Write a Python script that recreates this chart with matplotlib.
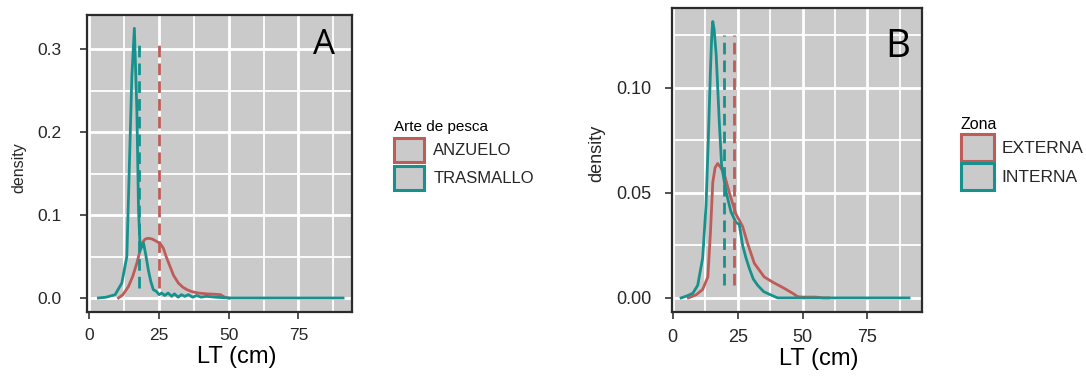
import matplotlib
matplotlib.use('Agg')
import matplotlib.pyplot as plt
from matplotlib.patches import Patch
from matplotlib.ticker import MultipleLocator

plt.rcParams['font.family'] = ['Liberation Sans', 'DejaVu Sans']

RED = '#bd5c58'
TEAL = '#17918d'
BG = '#cacaca'
INK = '#262626'

##------------------------------------------------------##
# panel A : Arte de pesca
a_labels = ['ANZUELO', 'TRASMALLO']
a_anz_x = [10.4, 12.0, 14.0, 15.5, 17.0, 18.8, 20.0, 21.1, 22.5, 24.2, 25.5, 26.5,
           27.5, 28.9, 30.2, 31.9, 33.5, 35.0, 36.7, 39.0, 42.0, 45.0, 47.0, 48.5, 50.0]
a_anz_y = [0.0, 0.004, 0.014, 0.026, 0.042, 0.066, 0.071, 0.072, 0.071, 0.068, 0.065, 0.060,
           0.050, 0.038, 0.027, 0.018, 0.013, 0.010, 0.0077, 0.006, 0.005, 0.0045, 0.004, 0.001, 0.0]
a_tra_x = [3.2, 6.0, 9.2, 11.6, 13.4, 14.2, 15.2, 16.1, 17.0, 17.6, 18.2, 18.8, 19.4, 20.2,
           21.1, 22.0, 22.9, 24.0, 25.0, 25.9, 27.0, 28.2, 29.5, 30.5, 31.8, 33.0, 34.2, 35.5,
           37.0, 38.5, 40.0, 42.0, 45.0, 50.0, 60.0, 70.0, 80.0, 91.0]
a_tra_y = [0.0, 0.001, 0.004, 0.018, 0.05, 0.146, 0.267, 0.325, 0.226, 0.106, 0.058, 0.062,
           0.066, 0.052, 0.034, 0.02, 0.010, 0.008, 0.004, 0.006, 0.003, 0.006, 0.002, 0.005,
           0.001, 0.004, 0.002, 0.004, 0.001, 0.003, 0.001, 0.002, 0.001, 0.0, 0.0, 0.0, 0.0, 0.0]
a_means = [25.0, 17.6]
a_mean_span = [0.012, 0.31]

# panel B : Zona
b_labels = ['EXTERNA', 'INTERNA']
b_ext_x = [6.0, 9.0, 11.5, 13.5, 14.5, 15.4, 16.3, 17.3, 18.5, 19.8, 21.8, 24.3, 26.9, 28.8,
           31.4, 35.2, 38.5, 41.7, 44.0, 46.2, 48.1, 50.0, 55.0, 58.0, 60.0]
b_ext_y = [0.0, 0.0015, 0.004, 0.010, 0.031, 0.055, 0.062, 0.064, 0.062, 0.059, 0.050, 0.040,
           0.034, 0.026, 0.0165, 0.010, 0.0075, 0.0054, 0.0038, 0.0022, 0.0006, 0.0004, 0.0004,
           0.0, 0.0]
b_int_x = [3.2, 5.5, 7.7, 9.6, 11.5, 12.8, 13.7, 14.5, 15.0, 15.4, 15.9, 16.7, 17.9, 18.8,
           20.5, 22.4, 24.3, 25.6, 26.9, 28.2, 29.5, 31.0, 32.7, 35.0, 37.8, 40.4, 50.0, 60.0,
           70.0, 80.0, 91.0]
b_int_y = [0.0, 0.001, 0.0022, 0.006, 0.019, 0.044, 0.076, 0.108, 0.125, 0.1316, 0.128, 0.116,
           0.084, 0.063, 0.0506, 0.041, 0.036, 0.035, 0.025, 0.019, 0.014, 0.009, 0.006, 0.003,
           0.0014, 0.0, 0.0, 0.0, 0.0, 0.0, 0.0]
b_means = [23.5, 19.6]
b_mean_span = [0.006, 0.125]


def style_panel(ax, xlim, ylim, ymajor, tick_fs):
    ax.set_facecolor(BG)
    ax.set_xlim(xlim)
    ax.set_ylim(ylim)
    ax.xaxis.set_major_locator(MultipleLocator(25))
    ax.xaxis.set_minor_locator(MultipleLocator(12.5))
    ax.yaxis.set_major_locator(MultipleLocator(ymajor))
    ax.yaxis.set_minor_locator(MultipleLocator(ymajor / 2))
    ax.grid(which='major', color='white', lw=2.0)
    ax.grid(which='minor', color='white', lw=1.3)
    ax.set_axisbelow(True)
    for s in ax.spines.values():
        s.set_color('#2b2b2b')
        s.set_linewidth(1.6)
    ax.tick_params(which='major', length=5, width=1.2, color='#333333',
                   labelsize=tick_fs, labelcolor=INK)
    ax.tick_params(which='minor', length=0)


def draw(ax, xs, ys, means, span, colors):
    for x, y, c in zip(xs, ys, colors):
        ax.plot(x, y, color=c, lw=2.0, solid_joinstyle='round')
    for m, c in zip(means, colors):
        ax.plot([m, m], span, color=c, lw=2.0, dashes=(4.2, 2.2))


fig = plt.figure(figsize=(10.86, 3.79), dpi=100)

axA = fig.add_axes([0.0801, 0.1776, 0.2440, 0.7828])
style_panel(axA, (-0.9, 94.2), (-0.0165, 0.341), 0.1, 12.5)
axA.yaxis.set_major_formatter(matplotlib.ticker.FormatStrFormatter('%.1f'))
draw(axA, [a_anz_x, a_tra_x], [a_anz_y, a_tra_y], a_means, a_mean_span, [RED, TEAL])
axA.tick_params(axis='y', pad=13)
axA.tick_params(axis='x', pad=7)
axA.text(0.894, 0.899, 'A', transform=axA.transAxes, fontsize=25, color='black',
         ha='center', va='center', family=['Open Sans', 'DejaVu Sans'])
axA.set_xlabel('LT (cm)', fontsize=17, color='black')
axA.xaxis.set_label_coords(0.566, -0.153)
axA.xaxis.label.set_va('center')
axA.set_ylabel('density', fontsize=11.5, color=INK)
axA.yaxis.set_label_coords(-0.257, 0.484)
axA.yaxis.label.set_va('center')

hA = [Patch(facecolor=BG, edgecolor=c, lw=2.2) for c in [RED, TEAL]]
legA = fig.legend(hA, a_labels, title='Arte de pesca', loc='upper left',
                  bbox_to_anchor=(0.3554, 0.7045), frameon=False, fontsize=12,
                  title_fontsize=11, handlelength=1.8, handleheight=1.9,
                  labelspacing=0.2, handletextpad=0.55, borderpad=0, alignment='left')
for t in legA.get_texts():
    t.set_color(INK)

axB = fig.add_axes([0.6188, 0.1768, 0.2302, 0.8020])
style_panel(axB, (-0.3, 96.0), (-0.0067, 0.138), 0.05, 13)
axB.yaxis.set_major_formatter(matplotlib.ticker.FormatStrFormatter('%.2f'))
draw(axB, [b_ext_x, b_int_x], [b_ext_y, b_int_y], b_means, b_mean_span, [RED, TEAL])
axB.tick_params(axis='y', pad=10)
axB.tick_params(axis='x', pad=7)
axB.text(0.904, 0.872, 'B', transform=axB.transAxes, fontsize=28, color='black',
         ha='center', va='center', family=['Open Sans', 'DejaVu Sans'])
axB.set_xlabel('LT (cm)', fontsize=17, color='black')
axB.xaxis.set_label_coords(0.588, -0.155)
axB.xaxis.label.set_va('center')
axB.set_ylabel('density', fontsize=13, color=INK)
axB.yaxis.set_label_coords(-0.30, 0.523)
axB.yaxis.label.set_va('center')

hB = [Patch(facecolor=BG, edgecolor=c, lw=2.2) for c in [RED, TEAL]]
legB = fig.legend(hB, b_labels, title='Zona', loc='upper left',
                  bbox_to_anchor=(0.8766, 0.715), frameon=False, fontsize=12.5,
                  title_fontsize=11.5, handlelength=1.9, handleheight=2.0,
                  labelspacing=0.12, handletextpad=0.45, borderpad=0, alignment='left')
for t in legB.get_texts():
    t.set_color(INK)

fig.savefig('out.png', dpi=100)
